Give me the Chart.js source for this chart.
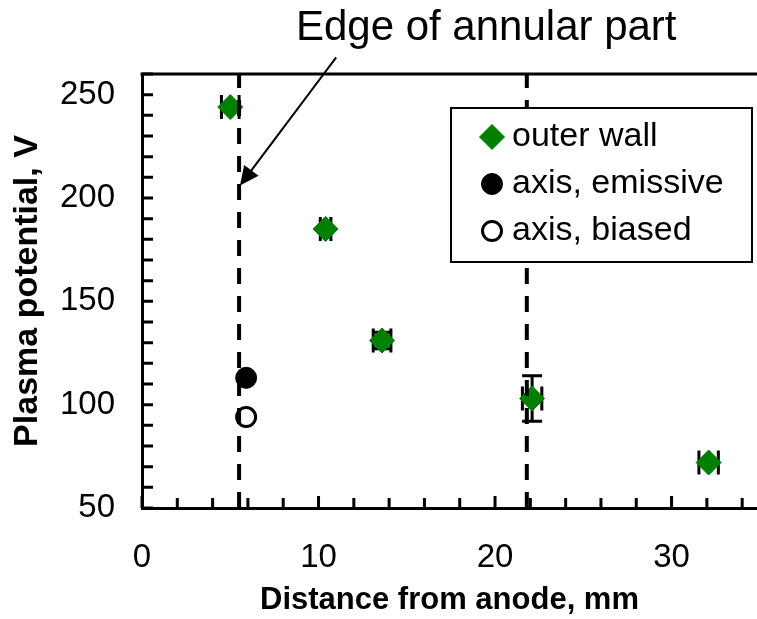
<!DOCTYPE html>
<html>
<head>
<meta charset="utf-8">
<script src="https://cdn.jsdelivr.net/npm/chart.js@4"></script>
<style>
  html, body { margin: 0; padding: 0; background: #fff; overflow: hidden; }
  #wrap { width: 757px; height: 619px; }
  canvas { display: block; }
</style>
</head>
<body>
<div id="wrap"><canvas id="graphique" width="757" height="619"></canvas></div>
<script>
// Mesures du potentiel plasma
const distance = [5.0, 10.4, 13.6, 22.1, 32.1];
const outerWall = [244, 185, 131, 103, 72];
const outerWallErrX = [0.5, 0.3, 0.5, 0.55, 0.55];
const outerWallErrY = [0, 0, 4, 11, 0];

const axisDistance = [5.9];
const axisEmissive = [113];
const axisBiased = [94];

// bords de la partie annulaire (lignes pointillees)
const edgePositions = [5.5, 21.8];

const xTickLabels = [0, 10, 20, 30];
const yTickLabels = [50, 100, 150, 200, 250];

const police = "'Liberation Sans', Arial, sans-serif";
const vert = "#008000";

function ligneVerticale(x) {
    return {
        type: "line",
        label: "",
        data: [{ x: x, y: 50 }, { x: x, y: 260 }],
        borderColor: "#000",
        borderWidth: 4,
        borderDash: [16, 12],
        pointRadius: 0,
        showLegend: false,
    };
}

// Barres d'erreur dessinees avant les points
const barresErreur = {
    id: "barresErreur",
    beforeDatasetsDraw(chart) {
        const ctx = chart.ctx;
        const sx = chart.scales.x;
        const sy = chart.scales.y;
        ctx.save();
        ctx.strokeStyle = "#000";
        ctx.lineWidth = 3;
        for (let i = 0; i < distance.length; i++) {
            const px = sx.getPixelForValue(distance[i]);
            const py = sy.getPixelForValue(outerWall[i]);
            if (outerWallErrX[i] > 0) {
                const x1 = sx.getPixelForValue(distance[i] - outerWallErrX[i]);
                const x2 = sx.getPixelForValue(distance[i] + outerWallErrX[i]);
                ctx.beginPath();
                ctx.moveTo(x1, py); ctx.lineTo(x2, py);
                ctx.moveTo(x1, py - 12); ctx.lineTo(x1, py + 12);
                ctx.moveTo(x2, py - 12); ctx.lineTo(x2, py + 12);
                ctx.stroke();
            }
            if (outerWallErrY[i] > 0) {
                const y1 = sy.getPixelForValue(outerWall[i] - outerWallErrY[i]);
                const y2 = sy.getPixelForValue(outerWall[i] + outerWallErrY[i]);
                ctx.beginPath();
                ctx.moveTo(px, y1); ctx.lineTo(px, y2);
                ctx.moveTo(px - 10, y1); ctx.lineTo(px + 10, y1);
                ctx.moveTo(px - 10, y2); ctx.lineTo(px + 10, y2);
                ctx.stroke();
            }
        }
        ctx.restore();
    },
};

// Cadre du haut, graduations vers l'interieur, legende et fleche
const decor = {
    id: "decor",
    afterDraw(chart) {
        const ctx = chart.ctx;
        const area = chart.chartArea;
        const sx = chart.scales.x;
        const sy = chart.scales.y;
        ctx.save();
        ctx.strokeStyle = "#000";
        ctx.lineWidth = 3;

        ctx.beginPath();
        ctx.moveTo(area.left - 1.5, area.top);
        ctx.lineTo(area.right, area.top);
        ctx.stroke();

        ctx.beginPath();
        sx.ticks.forEach(t => {
            const p = sx.getPixelForValue(t.value);
            const len = t.value % 10 === 0 ? 12 : 10;
            ctx.moveTo(p, area.bottom);
            ctx.lineTo(p, area.bottom - len);
        });
        sy.ticks.forEach(t => {
            const p = sy.getPixelForValue(t.value);
            ctx.moveTo(area.left, p);
            ctx.lineTo(area.left + 11, p);
        });
        ctx.stroke();

        // legende
        const lx = area.right - 306;
        const ly = area.top + 34;
        ctx.fillStyle = "#fff";
        ctx.fillRect(lx, ly, 301, 154);
        ctx.lineWidth = 2;
        ctx.strokeRect(lx, ly, 301, 154);
        const entrees = chart.data.datasets.filter(d => d.showLegend !== false);
        entrees.forEach((d, i) => {
            const cy = ly + 29 + i * 47;
            ctx.fillStyle = d.backgroundColor;
            ctx.strokeStyle = d.borderColor;
            ctx.lineWidth = d.borderWidth;
            Chart.helpers.drawPoint(ctx, {
                pointStyle: d.pointStyle,
                radius: d.pointRadius,
                borderWidth: d.borderWidth,
                rotation: 0,
            }, lx + 41, cy);
            ctx.fillStyle = "#000";
            ctx.font = "34px " + police;
            ctx.textAlign = "left";
            ctx.textBaseline = "alphabetic";
            ctx.fillText(d.label, lx + 61, cy + 9);
        });

        // fleche vers le bord de la partie annulaire
        const x0 = sx.getPixelForValue(11.0), y0 = sy.getPixelForValue(268);
        const x1 = sx.getPixelForValue(5.55), y1 = sy.getPixelForValue(206);
        const ang = Math.atan2(y1 - y0, x1 - x0);
        ctx.strokeStyle = "#000";
        ctx.fillStyle = "#000";
        ctx.lineWidth = 2;
        ctx.beginPath();
        ctx.moveTo(x0, y0);
        ctx.lineTo(x1 - 14 * Math.cos(ang), y1 - 14 * Math.sin(ang));
        ctx.stroke();
        ctx.beginPath();
        ctx.moveTo(x1, y1);
        ctx.lineTo(x1 - 19 * Math.cos(ang) + 9 * Math.sin(ang), y1 - 19 * Math.sin(ang) - 9 * Math.cos(ang));
        ctx.lineTo(x1 - 19 * Math.cos(ang) - 9 * Math.sin(ang), y1 - 19 * Math.sin(ang) + 9 * Math.cos(ang));
        ctx.closePath();
        ctx.fill();

        ctx.font = "42px " + police;
        ctx.textAlign = "center";
        ctx.fillText("Edge of annular part", sx.getPixelForValue(19.5), 40);
        ctx.restore();
    },
};

const graphique = new Chart(document.getElementById("graphique"), {
    type: "scatter",
    data: {
        datasets: [
            ligneVerticale(edgePositions[0]),
            ligneVerticale(edgePositions[1]),
            {
                label: "outer wall",
                data: distance.map((x, i) => ({ x: x, y: outerWall[i] })),
                pointStyle: "rectRot",
                pointRadius: 12.5,
                backgroundColor: vert,
                borderColor: vert,
                borderWidth: 1,
            },
            {
                label: "axis, emissive",
                data: axisDistance.map((x, i) => ({ x: x, y: axisEmissive[i] })),
                pointStyle: "circle",
                pointRadius: 10.5,
                backgroundColor: "#000",
                borderColor: "#000",
                borderWidth: 1,
            },
            {
                label: "axis, biased",
                data: axisDistance.map((x, i) => ({ x: x, y: axisBiased[i] })),
                pointStyle: "circle",
                pointRadius: 9.5,
                backgroundColor: "#fff",
                borderColor: "#000",
                borderWidth: 3,
            },
        ],
    },
    options: {
        responsive: false,
        animation: false,
        layout: { autoPadding: false, padding: { top: 74, right: 0, bottom: 0, left: 0 } },
        plugins: {
            legend: { display: false },
            tooltip: { enabled: false },
        },
        scales: {
            x: {
                type: "linear",
                min: 0,
                max: 34.84,
                afterFit: (scale) => {
                    scale.height = 111;
                    scale.paddingLeft = 0;
                    scale.paddingRight = 0;
                },
                afterBuildTicks: (scale) => {
                    const t = [];
                    for (let v = 0; v <= 34; v += 2) t.push({ value: v });
                    scale.ticks = t;
                },
                grid: { display: false, drawTicks: false },
                border: { display: true, color: "#000", width: 3 },
                ticks: {
                    autoSkip: false,
                    maxRotation: 0,
                    padding: 30,
                    color: "#000",
                    font: { family: police, size: 33 },
                    callback: (v) => xTickLabels.includes(v) ? String(v) : "",
                },
                title: {
                    display: true,
                    text: "Distance from anode, mm",
                    color: "#000",
                    font: { family: police, size: 31, weight: "bold" },
                    padding: { top: 0, bottom: 0 },
                },
            },
            y: {
                min: 50,
                max: 260,
                afterFit: (scale) => { scale.width = 142; },
                grid: { display: false, drawTicks: false },
                border: { display: true, color: "#000", width: 3 },
                ticks: {
                    stepSize: 10,
                    autoSkip: false,
                    padding: 27,
                    color: "#000",
                    font: { family: police, size: 33 },
                    callback: (v) => yTickLabels.includes(v) ? String(v) : "",
                },
                title: {
                    display: true,
                    text: "Plasma potential, V",
                    color: "#000",
                    font: { family: police, size: 34, weight: "bold" },
                    padding: { top: 7, bottom: 0 },
                },
            },
        },
    },
    plugins: [barresErreur, decor],
});
</script>
</body>
</html>
